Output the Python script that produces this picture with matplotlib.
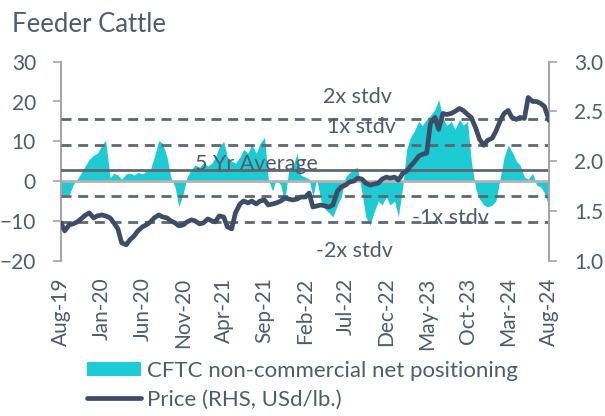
import matplotlib
matplotlib.use('Agg')
import matplotlib.pyplot as plt
import matplotlib.dates as mdates
import pandas as pd

plt.rcParams['font.family'] = ['Lato', 'DejaVu Sans']

# ---- data (semi-monthly, Aug-19 .. Aug-24) ----
dates = pd.date_range('2019-08-01', '2024-08-01', freq='SMS')

cftc = [-3.5, -3.5, -3.5, -1.0, 0.5, 2.0, 4.0, 5.5, 6.5, 7.0,
        9.0, 10.3, 0.8, 2.0, 1.5, 0.5, 1.8, 2.0, 1.5, 2.2,
        1.8, 2.5, 3.0, 6.0, 10.2, 9.5, 6.0, 1.0, -1.5, -6.5,
        -3.0, 1.0, 3.0, 4.0, 3.5, 4.5, 3.8, 4.5, 6.0, 8.5,
        10.0, 6.0, 5.0, 4.5, 6.0, 8.0, 7.0, 9.2, 7.0, 9.5,
        11.0, 0.5, -2.5, 0.5, -1.0, -5.5, 3.0, 3.5, 7.0, 1.5,
        1.0, 0.5, -4.0, 0.5, -5.0, -7.0, -8.0, -9.0, -6.0, -4.0,
        1.0, 2.0, 3.0, 3.5, -3.0, -9.0, -11.0, -8.0, -5.0, -6.0,
        -4.0, -6.0, -5.0, -9.0, -1.0, 8.0, 11.0, 12.5, 15.0, 14.0,
        15.5, 16.5, 18.0, 20.5, 16.0, 14.0, 15.0, 13.0, 15.5, 14.0,
        15.0, 5.0, -2.0, -4.5, -6.0, -6.5, -6.0, -5.0, 1.0, 6.0,
        9.0, 7.5, 5.0, 4.0, 1.0, 0.5, 2.0, -1.0, -1.5, -3.0,
        -6.5]

price = [1.38, 1.30, 1.36, 1.37, 1.39, 1.42, 1.46, 1.48, 1.43, 1.45,
         1.46, 1.45, 1.43, 1.38, 1.32, 1.18, 1.16, 1.21, 1.25, 1.30,
         1.34, 1.36, 1.39, 1.43, 1.46, 1.44, 1.43, 1.40, 1.38, 1.35,
         1.36, 1.39, 1.41, 1.40, 1.37, 1.38, 1.42, 1.40, 1.39, 1.45,
         1.44, 1.34, 1.32, 1.48, 1.57, 1.60, 1.58, 1.60, 1.57, 1.60,
         1.61, 1.56, 1.57, 1.58, 1.60, 1.63, 1.62, 1.61, 1.62, 1.64,
         1.64, 1.68, 1.54, 1.55, 1.56, 1.55, 1.54, 1.56, 1.70, 1.74,
         1.76, 1.79, 1.80, 1.83, 1.82, 1.78, 1.76, 1.77, 1.78, 1.82,
         1.84, 1.83, 1.84, 1.81, 1.88, 1.90, 1.95, 1.99, 2.05, 2.07,
         2.08, 2.38, 2.44, 2.32, 2.48, 2.47, 2.48, 2.50, 2.53, 2.51,
         2.47, 2.44, 2.33, 2.22, 2.16, 2.21, 2.23, 2.30, 2.41, 2.48,
         2.51, 2.44, 2.42, 2.44, 2.43, 2.64, 2.60, 2.60, 2.58, 2.55,
         2.41]

avg_level = 2.7
stdv_levels = [15.6, 9.0, -3.8, -10.3]
level_labels = ['2x stdv', '1x stdv', '5 Yr Average', '-1x stdv', '-2x stdv']
label_dates = pd.to_datetime(['2022-08-16', '2022-08-28', '2021-08-02', '2023-07-30', '2022-08-03'])
label_values = [19.7, 12.2, 2.75, -10.8, -19.1]

tick_dates = pd.date_range('2019-08-01', '2024-08-01', freq='5MS')
left_ticks = [30, 20, 10, 0, -10, -20]
right_ticks = [3.0, 2.5, 2.0, 1.5, 1.0]

# ---- style ----
CYAN = '#1ccbd3'
NAVY = '#3e4d66'
GRID = '#5e6770'
TXT = '#505c68'
SPINE = '#a6a6a6'
TICK_FS = 15
ANN_FS = 15.5
LEG_FS = 16

fig = plt.figure(figsize=(6.05, 4.16), dpi=100)
ax = fig.add_axes([61 / 605, 1 - 260.7 / 416, 488 / 605, 199 / 416])

area = ax.fill_between(dates, 0, cftc, color=CYAN, lw=0, zorder=1,
                       label='CFTC non-commercial net positioning')
ax.axhline(0, color='#b3b3b3', lw=2, zorder=2)
ax.axhline(avg_level, color=GRID, lw=2, zorder=3)
for lv in stdv_levels:
    ax.axhline(lv, color=GRID, lw=2, ls=(0, (3.6, 2.4)), zorder=3)

for lab, d, v in zip(level_labels, label_dates, label_values):
    ax.text(d, v, lab, ha='center', va='baseline', fontsize=ANN_FS, color=TXT, zorder=5)

ax.set_xlim(dates[0], dates[-1])
ax.set_ylim(-20, 30)
ax.set_yticks(left_ticks)
ax.set_xticks(tick_dates)
ax.xaxis.set_major_formatter(mdates.DateFormatter('%b-%y'))
ax.tick_params(axis='x', length=0, pad=12, labelrotation=90, labelsize=TICK_FS, labelcolor=TXT)
ax.tick_params(axis='y', length=6, width=1.2, color=SPINE, labelsize=TICK_FS, labelcolor=TXT, pad=12)
for s in ['top', 'bottom', 'right']:
    ax.spines[s].set_visible(False)
ax.spines['left'].set_color(SPINE)
ax.spines['left'].set_linewidth(1.5)

ax2 = ax.twinx()
line, = ax2.plot(dates, price, color=NAVY, lw=3.4, solid_capstyle='round',
                 solid_joinstyle='round', label='Price (RHS, USd/lb.)', zorder=6)
ax2.set_ylim(1.0, 3.0)
ax2.set_yticks(right_ticks)
ax2.set_yticklabels([f'{t:.1f}' for t in right_ticks])
ax2.tick_params(axis='y', length=6, width=1.2, color=SPINE, labelsize=TICK_FS, labelcolor=TXT, pad=12)
for s in ['top', 'bottom', 'left']:
    ax2.spines[s].set_visible(False)
ax2.spines['right'].set_color(SPINE)
ax2.spines['right'].set_linewidth(1.5)

fig.text(12 / 605, 1 - 32 / 416, 'Feeder Cattle', ha='left', va='baseline',
         fontsize=18.5, color=TXT)

leg = fig.legend([area, line], [area.get_label(), line.get_label()],
                 loc='upper left', bbox_to_anchor=(87 / 605, 1 - 361 / 416),
                 frameon=False, fontsize=LEG_FS, labelcolor=TXT,
                 handlelength=2.45, handleheight=0.62, handletextpad=0.25,
                 labelspacing=0.4, borderpad=0, borderaxespad=0)

fig.savefig('out.png', dpi=100)
